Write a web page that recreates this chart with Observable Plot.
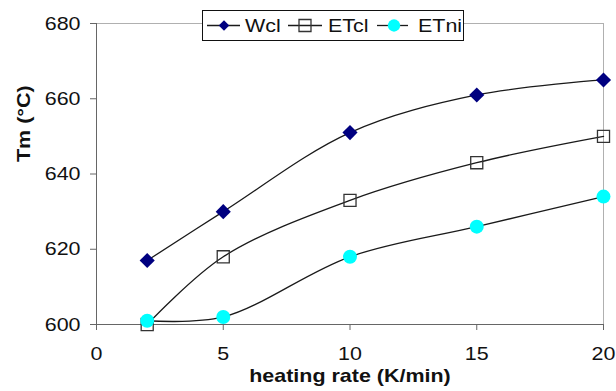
<!DOCTYPE html>
<html>
<head>
<meta charset="utf-8">
<script src="https://cdn.jsdelivr.net/npm/d3@7"></script>
<script src="https://cdn.jsdelivr.net/npm/@observablehq/plot@0.6"></script>
<style>
  body { margin: 0; background: #fff; }
  #wrap { position: relative; width: 616px; height: 391px; }
  #legend { position: absolute; left: 202px; top: 10px; }
</style>
</head>
<body>
<div id="wrap"></div>
<script>
// Data
const heatingRates = [2, 5, 10, 15, 20];
const wcl  = [617, 630, 651, 661, 665];
const etcl = [600, 618, 633, 643, 650];
const etni = [601, 602, 618, 626, 634];
const seriesNames = ["Wcl", "ETcl", "ETni"];
const xTicks = [0, 5, 10, 15, 20];
const yTicks = [600, 620, 640, 660, 680];
const xLabel = "heating rate (K/min)";
const yLabel = "Tm (°C)";

const toRows = (vals) => heatingRates.map((x, i) => ({x, y: vals[i]}));
const dWcl = toRows(wcl), dEtcl = toRows(etcl), dEtni = toRows(etni);

const font = "'Liberation Sans', Arial, sans-serif";
const stretch = 1.13; // reference text is slightly wide
const lineStyle = {x: "x", y: "y", curve: "catmull-rom", stroke: "#1a1a1a", strokeWidth: 1.3};

const chart = Plot.plot({
  width: 616,
  height: 391,
  marginLeft: 96,
  marginRight: 13,
  marginTop: 23,
  marginBottom: 67,
  style: {fontSize: "19px", fontFamily: font, color: "#111", background: "#fff"},
  x: {domain: [0, 20]},
  y: {domain: [600, 680]},
  marks: [
    Plot.frame({stroke: "#b0b0b0"}),
    Plot.ruleX([0], {stroke: "#666"}),
    Plot.ruleY([600], {stroke: "#666"}),
    Plot.axisX({ticks: xTicks, tickSize: 6, tickPadding: 16, stroke: "#666", fill: "#111", label: null}),
    Plot.axisY({ticks: yTicks, tickSize: 6, tickPadding: 10, stroke: "#666", fill: "#111", label: null}),
    Plot.text([xLabel], {text: d => d, frameAnchor: "bottom", dy: 51, lineAnchor: "middle", fontWeight: "bold", fontSize: 19, fill: "#111"}),
    Plot.text([yLabel], {text: d => d, frameAnchor: "left", dx: -73, dy: -12, rotate: -90, lineAnchor: "middle", fontWeight: "bold", fontSize: 19, fill: "#111"}),
    Plot.line(dWcl, lineStyle),
    Plot.line(dEtcl, lineStyle),
    Plot.line(dEtni, lineStyle),
    Plot.dot(dWcl, {x: "x", y: "y", symbol: "diamond2", r: 6.8, fill: "#000080", stroke: "none"}),
    Plot.dot(dEtcl, {x: "x", y: "y", symbol: "square", r: 6.8, fill: "none", stroke: "#333", strokeWidth: 1.3}),
    Plot.dot(dEtni, {x: "x", y: "y", symbol: "circle", r: 7, fill: "#00ffff", stroke: "none"})
  ]
});
const wrap = document.getElementById("wrap");
wrap.appendChild(chart);

// Stretch text horizontally about its anchor point
d3.select(chart).selectAll("text").each(function() {
  const t = d3.select(this);
  let tr = t.attr("transform");
  if (tr && tr.includes("translate")) {
    t.attr("transform", tr + ` scale(${stretch},1)`);
  } else {
    const x = +(t.attr("x") || 0), y = +(t.attr("y") || 0);
    t.attr("x", null).attr("y", null)
      .attr("transform", `${tr ? tr + " " : ""}translate(${x},${y}) scale(${stretch},1)`);
  }
});

// Legend overlay (box inside the plot area, as in the reference)
const lg = d3.select(wrap).append("svg")
  .attr("id", "legend")
  .attr("width", 262).attr("height", 32)
  .style("font-family", font).style("font-size", "19px");
lg.append("rect").attr("x", 0.5).attr("y", 0.5).attr("width", 261).attr("height", 30)
  .attr("fill", "#fff").attr("stroke", "#111").attr("stroke-width", 1);
const items = [
  {name: seriesNames[0], x0: 5, x1: 38, cx: 22, tx: 43, sym: d3.symbolDiamond2, size: 70, fill: "#000080", stroke: "none"},
  {name: seriesNames[1], x0: 86, x1: 120, cx: 103, tx: 126, sym: d3.symbolSquare, size: 144, fill: "none", stroke: "#333"},
  {name: seriesNames[2], x0: 175, x1: 206, cx: 192, tx: 216, sym: d3.symbolCircle, size: 120, fill: "#00ffff", stroke: "none"}
];
const cy = 15.5;
for (const it of items) {
  lg.append("line").attr("x1", it.x0).attr("x2", it.x1).attr("y1", cy).attr("y2", cy)
    .attr("stroke", "#1a1a1a").attr("stroke-width", 1.3);
  lg.append("path").attr("d", d3.symbol(it.sym, it.size)())
    .attr("transform", `translate(${it.cx},${cy})`)
    .attr("fill", it.fill).attr("stroke", it.stroke).attr("stroke-width", 1.3);
  lg.append("text").attr("transform", `translate(${it.tx},${cy}) scale(${stretch},1)`).attr("dy", "0.35em")
    .attr("fill", "#111").text(it.name);
}
</script>
</body>
</html>
